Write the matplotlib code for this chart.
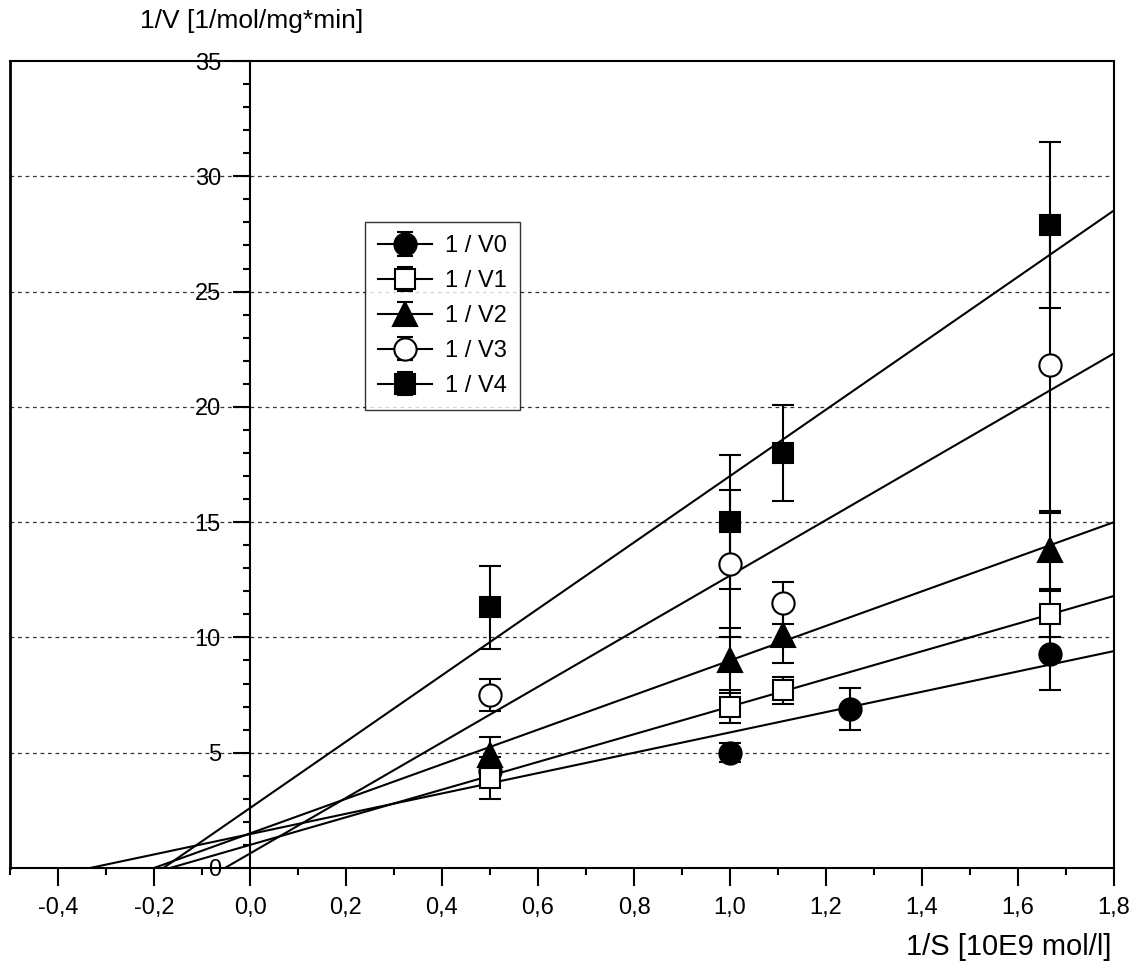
import numpy as np
import matplotlib
matplotlib.use("Agg")
import matplotlib.pyplot as plt
from matplotlib.ticker import MultipleLocator, FuncFormatter

plt.rcParams['font.family'] = ['Liberation Sans', 'DejaVu Sans']

# Datos
series = ["1 / V0", "1 / V1", "1 / V2", "1 / V3", "1 / V4"]
x_v0 = [0.5, 1.0, 1.25, 1.667]
x_vn = [0.5, 1.0, 1.111, 1.667]

y_v0 = [4.2, 5.0, 6.9, 9.3]
e_v0 = [0.3, 0.4, 0.9, 1.6]
y_v1 = [3.9, 7.0, 7.7, 11.0]
e_v1 = [0.9, 0.7, 0.6, 1.0]
y_v2 = [4.9, 9.0, 10.1, 13.8]
e_v2 = [0.8, 1.4, 1.2, 1.7]
y_v3 = [7.5, 13.2, 11.5, 21.8]
e_v3 = [0.7, 3.2, 0.9, 6.4]
y_v4 = [11.3, 15.0, 18.0, 27.9]
e_v4 = [1.8, 2.9, 2.1, 3.6]

# Rectas de ajuste (pendiente, ordenada)
slopes = [4.41, 6.0, 7.5, 12.05, 14.4]
intercepts = [1.47, 1.0, 1.5, 0.63, 2.6]

xs = [x_v0, x_vn, x_vn, x_vn, x_vn]
ys = [y_v0, y_v1, y_v2, y_v3, y_v4]
es = [e_v0, e_v1, e_v2, e_v3, e_v4]
markers = ["o", "s", "^", "o", "s"]
fills = ["k", "white", "k", "white", "k"]
sizes = [16, 15, 17, 16, 15]

fig = plt.figure(figsize=(11.38, 9.68), dpi=100)
ax = fig.add_axes([10 / 1138, 100 / 968, 1104 / 1138, 807 / 968])

ax.set_xlim(-0.5, 1.8)
ax.set_ylim(0, 35)

# lineas de rejilla horizontales
for yg in [5, 10, 15, 20, 25, 30]:
    ax.axhline(yg, color="#333333", lw=0.9, ls=(0, (3, 3)), zorder=0)

# rectas de regresion desde el corte con el eje x hasta 1,8
for m, b in zip(slopes, intercepts):
    x0 = -b / m
    ax.plot([x0, 1.8], [0, m * 1.8 + b], color="k", lw=1.5, zorder=2)

handles = []
for lab, x, y, e, mk, fc, ms in zip(series, xs, ys, es, markers, fills, sizes):
    ax.errorbar(x, y, yerr=e, fmt=mk, color="k", mfc=fc, mec="k",
                mew=1.5, ms=ms, capsize=8, capthick=1.5, elinewidth=1.5,
                zorder=3)
    # copia para la leyenda, con linea
    h = ax.errorbar([np.nan], [np.nan], yerr=[1.0], fmt="-" + mk, color="k",
                    mfc=fc, mec="k", mew=1.5, ms=ms, lw=1.5, capsize=6,
                    capthick=1.5, elinewidth=1.5)
    handles.append(h)

# eje y en x = 0
ax.spines['left'].set_position(('data', 0))
for s in ax.spines.values():
    s.set_linewidth(1.5)
ax.axvline(-0.5, color="k", lw=2.0, clip_on=False)

ax.xaxis.set_major_locator(MultipleLocator(0.2))
ax.xaxis.set_minor_locator(MultipleLocator(0.1))
ax.yaxis.set_major_locator(MultipleLocator(5))
ax.yaxis.set_minor_locator(MultipleLocator(1))
ax.xaxis.set_major_formatter(FuncFormatter(lambda v, p: f"{v:.1f}".replace(".", ",").replace("-0,0", "0,0")))
ax.yaxis.set_major_formatter(FuncFormatter(lambda v, p: f"{v:.0f}"))
ax.tick_params(axis="x", which="major", direction="out", length=13, width=1.5,
               labelsize=17, pad=8)
ax.tick_params(axis="x", which="minor", direction="out", length=5, width=1.5)
ax.tick_params(axis="y", which="major", direction="out", length=12, width=1.5,
               labelsize=17, pad=9)
ax.tick_params(axis="y", which="minor", direction="out", length=5, width=1.5)

leg = ax.legend(handles, series, loc="upper left", bbox_to_anchor=(0.3216, 0.8005),
                frameon=True, fancybox=False, fontsize=17, handlelength=2.3,
                handletextpad=0.55, labelspacing=0.55, borderpad=0.55,
                borderaxespad=0)
leg.get_frame().set_edgecolor("k")
leg.get_frame().set_linewidth(1.0)

fig.text(140 / 1138, 1 - 21 / 968, "1/V [1/mol/mg*min]", fontsize=19, va="center", ha="left")
fig.text(1112 / 1138, 1 - 947 / 968, "1/S [10E9 mol/l]", fontsize=21, va="center", ha="right")

fig.savefig("out.png", dpi=100)
